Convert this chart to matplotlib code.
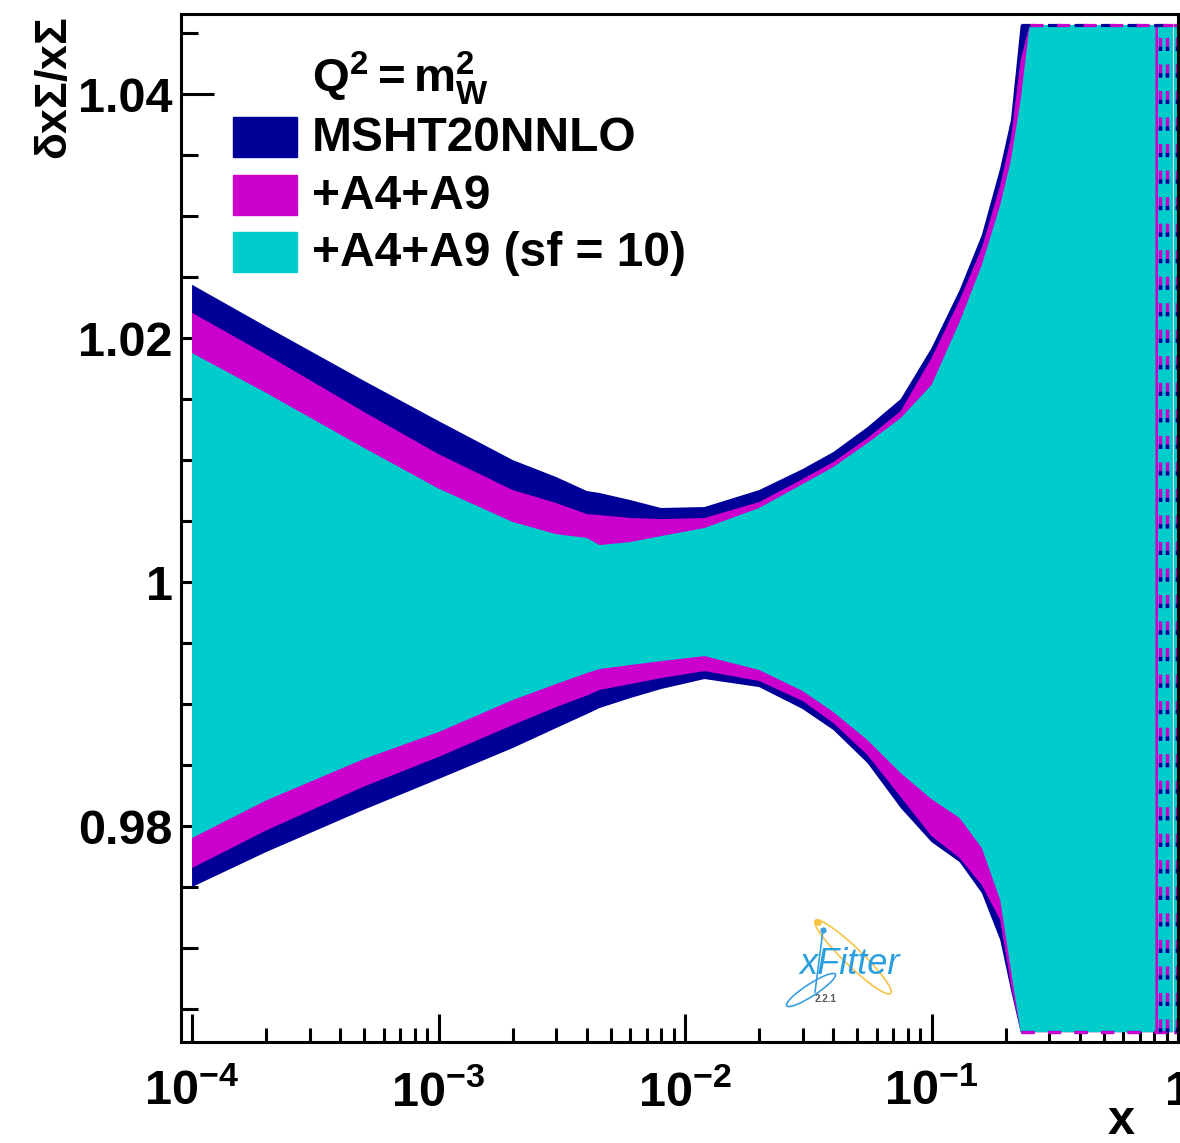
import numpy as np
import matplotlib
matplotlib.use('Agg')
import matplotlib.pyplot as plt
from matplotlib.patches import Rectangle, Ellipse
from matplotlib.lines import Line2D
from matplotlib.ticker import FixedLocator, FixedFormatter, MultipleLocator, LogLocator, NullFormatter
from matplotlib.transforms import IdentityTransform

plt.rcParams['font.family'] = ['Liberation Sans', 'DejaVu Sans']
plt.rcParams['font.weight'] = 'bold'
plt.rcParams['mathtext.fontset'] = 'custom'
plt.rcParams['mathtext.rm'] = 'Liberation Sans:bold'
plt.rcParams['mathtext.it'] = 'Liberation Sans:bold'
plt.rcParams['mathtext.bf'] = 'Liberation Sans:bold'
plt.rcParams['mathtext.sf'] = 'Liberation Sans'
plt.rcParams['lines.scale_dashes'] = False

# x grid (NaN columns = gaps in the bands at the far right)
x = [1e-4, 2e-4, 5e-4, 1e-3, 2e-3, 3e-3, 4e-3, 4.5e-3, 6e-3, 8e-3, 1.2e-2, 2e-2, 3e-2,
     4e-2, 5.5e-2, 7.5e-2, 0.1, 0.13, 0.16, 0.19, 0.21, 0.23, 0.25, 0.4, 0.6, 0.81,
     0.82, 0.83, 0.955, 0.96, 0.965, 1.0]

nan = np.nan
top = 1.04566
bot = 0.96311

msht_hi = [1.02437, 1.02094, 1.01648, 1.01320, 1.01000, 1.00861, 1.00746, 1.00730, 1.00672,
           1.00607, 1.00615, 1.00754, 1.00926, 1.01066, 1.01270, 1.01500, 1.01918, 1.02393,
           1.02844, 1.03393, 1.03787, top, top, top, top, top, top, top, top, nan, top, top]
msht_lo = [0.97500, 0.97787, 0.98135, 0.98385, 0.98639, 0.98803, 0.98918, 0.98967, 0.99049,
           0.99123, 0.99205, 0.99139, 0.98959, 0.98787, 0.98516, 0.98148, 0.97869, 0.97705,
           0.97451, 0.97066, 0.96656, bot, bot, bot, bot, bot, bot, bot, bot, nan, bot, bot]

a49_hi = [1.02207, 1.01865, 1.01393, 1.01049, 1.00754, 1.00648, 1.00557, 1.00549, 1.00525,
          1.00516, 1.00525, 1.00656, 1.00844, 1.00984, 1.01180, 1.01402, 1.01836, 1.02311,
          1.02738, 1.03254, 1.03639, 1.04279, top, top, top, top, top, top, top, nan, top, top]
a49_lo = [0.97656, 0.97964, 0.98325, 0.98566, 0.98828, 0.98975, 0.99070, 0.99115, 0.99164,
          0.99213, 0.99270, 0.99189, 0.99025, 0.98844, 0.98582, 0.98238, 0.97918, 0.97738,
          0.97516, 0.97230, 0.96697, bot, bot, bot, bot, bot, bot, bot, bot, nan, bot, bot]

sf10_hi = [1.01877, 1.01550, 1.01098, 1.00766, 1.00492, 1.00393, 1.00361, 1.00303, 1.00328,
           1.00377, 1.00443, 1.00607, 1.00803, 1.00943, 1.01139, 1.01344, 1.01615, 1.02131,
           1.02598, 1.03090, 1.03459, 1.03951, top, top, top, top, nan, top, top, nan, top, top]
sf10_lo = [0.97902, 0.98210, 0.98551, 0.98770, 0.99033, 0.99164, 0.99254, 0.99287, 0.99320,
           0.99352, 0.99393, 0.99279, 0.99107, 0.98934, 0.98705, 0.98434, 0.98221, 0.98066,
           0.97820, 0.97393, 0.96820, bot, bot, bot, bot, bot, nan, bot, bot, nan, bot, bot]

labels = ['MSHT20NNLO', '+A4+A9', '+A4+A9 (sf = 10)']
colors = ['#000099', '#cc00cc', '#00cccc']
bands = [(msht_lo, msht_hi), (a49_lo, a49_hi), (sf10_lo, sf10_hi)]

# vertical band outlines seen at the right edge
edge_x = [0.845, 0.902, 0.99]

fig = plt.figure(figsize=(11.8, 11.43), dpi=100)
ax = fig.add_axes([181/1180, 1-1042/1143, 997/1180, 1028/1143])

xs = np.array(x)
for (lo, hi), c in zip(bands, colors):
    ax.fill_between(xs, lo, hi, color=c, lw=0, zorder=2)

# dashed outlines of the first two bands where they run along the clipped range
for (lo, hi), c in zip(bands[:2], colors[:2]):
    hi = np.array(hi)
    lo = np.array(lo)
    ax.plot(xs, np.where(hi == top, hi, nan), color=c, lw=2.3, dashes=(9.4, 9.7), zorder=3)
    ax.plot(xs, np.where(lo == bot, lo, nan), color=c, lw=2.3, dashes=(9.4, 9.7), zorder=3)
for ex in edge_x:
    ax.plot([ex, ex], [bot, top], color=colors[1], lw=2.5, dashes=(9.4, 9.7), zorder=3)
    ax.plot([ex, ex], [bot, top], color=colors[0], lw=2.5, dashes=(3, 16.1), zorder=3)

ax.set_xscale('log')
ax.set_xlim(9.02e-5, 1.0)
ax.set_ylim(0.96230, 1.04656)

ax.xaxis.set_major_locator(FixedLocator([1e-4, 1e-3, 1e-2, 1e-1, 1]))
ax.xaxis.set_major_formatter(FixedFormatter([r'$10^{-4}$', r'$10^{-3}$', r'$10^{-2}$', r'$10^{-1}$', '1']))
ax.xaxis.set_minor_locator(LogLocator(base=10, subs=np.arange(2, 10), numticks=20))
ax.xaxis.set_minor_formatter(NullFormatter())

ax.yaxis.set_major_locator(FixedLocator([0.98, 1.0, 1.02, 1.04]))
ax.yaxis.set_major_formatter(FixedFormatter(['0.98', '1', '1.02', '1.04']))
ax.yaxis.set_minor_locator(MultipleLocator(0.005))

ax.tick_params(axis='both', which='both', direction='in', width=2.2, top=False, right=False,
               labelsize=35)
ax.tick_params(axis='y', which='major', length=23.8, pad=6)
ax.tick_params(axis='y', which='minor', length=12)
ax.tick_params(axis='x', which='major', length=20, pad=20)
ax.tick_params(axis='x', which='minor', length=10)
for sp in ax.spines.values():
    sp.set_linewidth(2.2)
    sp.set_zorder(5)

# legend
fig.text(312/1180, 1-92/1143, r'$\mathrm{Q^{2} = m_{W}^{2}}$', fontsize=34, ha='left', va='baseline')
box_top = [117, 175, 232]
for lab, c, bt in zip(labels, colors, box_top):
    ax.add_patch(Rectangle(((233-181)/997, (1042-bt-40)/1028), 64/997, 40/1028,
                           transform=ax.transAxes, color=c, zorder=6, clip_on=False))
    ax.text((312-181)/997, (1042-bt-34)/1028, lab, transform=ax.transAxes,
            fontsize=34.5, ha='left', va='baseline', zorder=6)

fig.text(55/1180, 1-17/1143, r'$\mathsf{\delta}\mathbf{x}\mathsf{\Sigma}/\mathbf{x}\mathsf{\Sigma}$',
         rotation=90, fontsize=32, ha='center', va='top')
fig.text(1121/1180, 1-1134/1143, 'x', fontsize=35, ha='center', va='baseline')

# xFitter logo
idt = IdentityTransform()
H = 1143
fig.add_artist(Ellipse((853, H-957), 105, 18, angle=-44, fill=False, ec='#f6c343', lw=1.2, transform=idt))
fig.add_artist(Ellipse((811, H-990), 58, 12, angle=33, fill=False, ec='#3a9fe0', lw=1.2, transform=idt))
fig.add_artist(Line2D([823, 815], [H-930, H-992], color='#3a9fe0', lw=1.2, transform=idt))
fig.add_artist(Line2D([818], [H-922], marker='o', ms=4, color='#f6c343', transform=idt))
fig.add_artist(Line2D([823], [H-930], marker='o', ms=3.5, color='#3a9fe0', transform=idt))
fig.text(850, H-965, 'xFitter', transform=idt, fontsize=26, style='italic', weight='normal',
         color='#2a9fe0', ha='center', va='center')
fig.text(826, H-999, '2.2.1', transform=idt, fontsize=7, weight='bold', color='#555555',
         ha='center', va='center')

fig.savefig('out.png', dpi=100)
